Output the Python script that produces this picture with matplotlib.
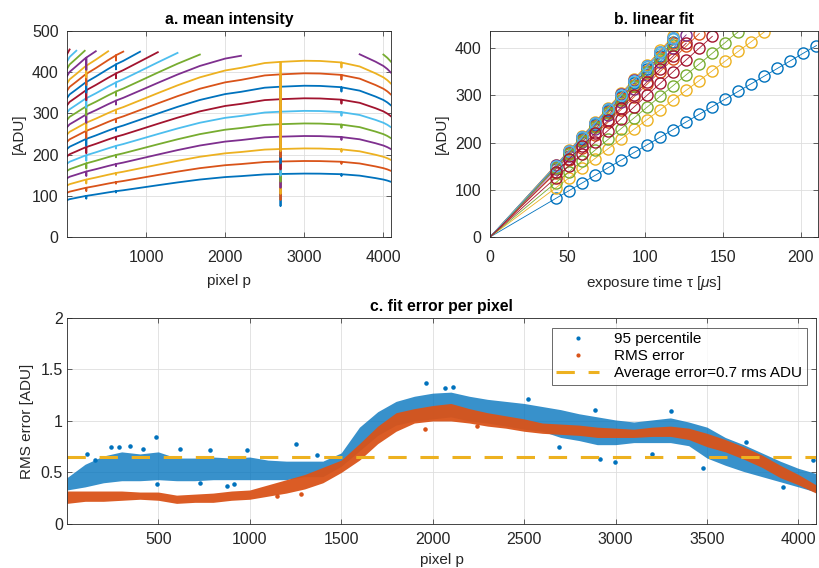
import matplotlib
matplotlib.use("Agg")
import matplotlib.pyplot as plt
import numpy as np

plt.rcParams['font.family'] = ['Liberation Sans', 'DejaVu Sans']
plt.rcParams['mathtext.fontset'] = 'custom'
plt.rcParams['mathtext.it'] = 'Liberation Sans:italic'
plt.rcParams['mathtext.rm'] = 'Liberation Sans'

# MATLAB default colour order
mcolors = ['#0072BD', '#D95319', '#EDB120', '#7E2F8E', '#77AC30', '#4DBEEE', '#A2142F']

################################################################
# exposure times [us] (shared by panels a and b)
tau = [42.4, 50.8, 59.2, 67.5, 75.9, 84.3, 92.7, 101.1, 109.4, 117.8, 126.2,
       134.6, 143.0, 151.3, 159.7, 168.1, 176.5, 184.9, 193.2, 201.6, 210.0]

# panel a: intensity profile of the shortest exposure and saturation level
pix_a = [1, 34, 119, 225, 244, 245, 246, 365, 521, 619, 620, 621, 712, 924, 1149,
         1398, 1680, 2000, 2200, 2500, 2699, 2700, 2701, 3000, 3200, 3469, 3470,
         3471, 3700, 3800, 3900, 4000, 4050, 4096]
base_a = [89.5, 91.9, 95.1, 99.2, 99.8, 93.0, 99.9, 103.4, 108.3, 111.2, 108.0, 111.3,
          113.5, 119.4, 125.7, 132.5, 139.5, 145.5, 147.8, 152.0, 153.0, 75.0, 153.0,
          154.0, 153.8, 152.5, 148.0, 152.4, 149.0, 146.0, 143.0, 139.5, 137.0, 134.0]
sat_a = [455.5, 455.5, 452.5, 452.5, 452.5, 452.5, 452.5, 451.5, 451.5, 451.0, 451.0,
         451.0, 450.5, 450.0, 449.0, 447.5, 443.5, 441.0, 440.5, 444.5, 444.5, 444.5,
         444.5, 444.5, 444.5, 444.5, 444.5, 444.5, 444.5, 444.5, 444.5, 444.5, 444.5,
         444.5]

# panel b: responsivity of the selected pixels [ADU/us] and unsaturated points
resp_b = [1.93, 3.20, 2.46, 3.39, 2.72, 3.55, 2.97, 3.51, 3.48, 3.61, 3.58, 3.45, 3.57, 3.25]
npts_b = [21, 12, 17, 11, 15, 10, 13, 10, 10, 10, 10, 10, 10, 11]

# panel c: band of the per pixel fit errors
pix_c = [1, 100, 200, 300, 400, 500, 600, 700, 800, 900, 1000, 1100, 1200, 1300,
         1400, 1500, 1600, 1700, 1800, 1900, 2000, 2100, 2200, 2300, 2400, 2500,
         2600, 2700, 2800, 2900, 3000, 3100, 3200, 3300, 3400, 3500, 3600, 3700,
         3800, 3900, 4000, 4096]
p95_lo = [0.33, 0.36, 0.40, 0.42, 0.42, 0.43, 0.42, 0.42, 0.43, 0.43, 0.43, 0.43,
          0.43, 0.46, 0.46, 0.56, 0.71, 0.86, 0.96, 1.00, 1.02, 1.04, 1.00, 0.98,
          0.95, 0.92, 0.90, 0.84, 0.81, 0.77, 0.77, 0.79, 0.79, 0.79, 0.76, 0.64,
          0.57, 0.51, 0.46, 0.41, 0.36, 0.31]
p95_hi = [0.45, 0.58, 0.66, 0.70, 0.68, 0.70, 0.64, 0.64, 0.65, 0.64, 0.65, 0.62,
          0.61, 0.61, 0.61, 0.69, 0.94, 1.09, 1.19, 1.24, 1.27, 1.28, 1.24, 1.21,
          1.19, 1.17, 1.14, 1.11, 1.07, 1.04, 1.01, 0.99, 1.01, 1.03, 0.99, 0.94,
          0.84, 0.77, 0.69, 0.61, 0.54, 0.49]
rms_lo = [0.20, 0.22, 0.22, 0.23, 0.24, 0.23, 0.20, 0.21, 0.21, 0.23, 0.24, 0.27,
          0.30, 0.34, 0.40, 0.50, 0.62, 0.78, 0.90, 0.98, 1.00, 1.00, 0.98, 0.95,
          0.93, 0.90, 0.88, 0.87, 0.86, 0.84, 0.84, 0.84, 0.85, 0.85, 0.82, 0.75,
          0.70, 0.63, 0.55, 0.45, 0.38, 0.30]
rms_hi = [0.32, 0.32, 0.32, 0.32, 0.31, 0.31, 0.28, 0.29, 0.30, 0.32, 0.33, 0.38,
          0.43, 0.48, 0.55, 0.62, 0.78, 0.95, 1.08, 1.12, 1.15, 1.17, 1.12, 1.08,
          1.05, 1.02, 0.98, 0.97, 0.96, 0.94, 0.93, 0.92, 0.94, 0.95, 0.93, 0.88,
          0.82, 0.75, 0.67, 0.57, 0.48, 0.38]
# isolated points read outside the dense bands
p95_out_pix = [110, 156, 244, 284, 344, 419, 485, 491, 619, 729, 784, 875, 912, 985,
               1251, 1370, 1965, 2066, 2112, 2524, 2689, 2890, 2917, 2999, 3201,
               3302, 3476, 3714, 3916, 4080]
p95_out_val = [0.68, 0.62, 0.75, 0.75, 0.76, 0.73, 0.84, 0.39, 0.73, 0.40, 0.72, 0.37,
               0.39, 0.72, 0.78, 0.67, 1.37, 1.32, 1.33, 1.21, 0.75, 1.11, 0.63, 0.60,
               0.68, 1.10, 0.54, 0.80, 0.36, 0.62]
rms_out_pix = [1147, 1278, 1960, 2240]
rms_out_val = [0.27, 0.29, 0.92, 0.95]
avg_err = 0.65

################################################################

gray = '#262626'
fs = 11


def style_axes(ax, xpad, ypad):
    ax.tick_params(direction='in', top=True, right=True, length=3.5, width=0.5,
                   colors=gray, labelsize=11.5)
    ax.tick_params(axis='x', pad=xpad)
    ax.tick_params(axis='y', pad=ypad)
    for s in ax.spines.values():
        s.set_color(gray)
        s.set_linewidth(0.6)
    ax.grid(True, color='#dedede', linewidth=0.6)
    ax.set_axisbelow(True)


fig = plt.figure(figsize=(8.19, 5.68), dpi=100)
ax_a = fig.add_axes([0.0818, 0.5827, 0.3956, 0.3627])
ax_b = fig.add_axes([0.5983, 0.5827, 0.4005, 0.3627])
ax_c = fig.add_axes([0.0818, 0.0775, 0.9145, 0.3627])

# a. mean intensity
pa = np.array(pix_a, dtype=float)
ba = np.array(base_a)
sa = np.array(sat_a)
for k, t in enumerate(tau):
    vals = ba * t / tau[0]
    vals = np.where(vals <= sa, vals, np.nan)
    ax_a.plot(pa, vals, color=mcolors[k % 7], lw=1.3)
ax_a.set_xlim(1, 4096)
ax_a.set_ylim(0, 500)
ax_a.set_xticks([1000, 2000, 3000, 4000])
ax_a.set_yticks([0, 100, 200, 300, 400, 500])
ax_a.set_xlabel('pixel p', color=gray, fontsize=fs, labelpad=6)
ax_a.set_ylabel('[ADU]', color=gray, fontsize=fs, labelpad=4)
ax_a.set_title('a. mean intensity', fontsize=11.3, fontweight='bold', pad=5)
style_axes(ax_a, 9.5, 6)

# b. linear fit
tb = np.array(tau)
for j, (r, n) in enumerate(zip(resp_b, npts_b)):
    c = mcolors[j % 7]
    ax_b.plot([0, tb[n - 1]], [0, r * tb[n - 1]], color=c, lw=0.6)
    ax_b.plot(tb[:n], r * tb[:n], 'o', color=c, mfc='none', ms=8, mew=1.0)
ax_b.set_xlim(0, 211)
ax_b.set_ylim(0, 436)
ax_b.set_xticks([0, 50, 100, 150, 200])
ax_b.set_yticks([0, 100, 200, 300, 400])
ax_b.set_xlabel(r'exposure time τ [$\mu$s]', color=gray, fontsize=fs, labelpad=6)
ax_b.set_ylabel('[ADU]', color=gray, fontsize=fs, labelpad=4)
ax_b.set_title('b. linear fit', fontsize=11.3, fontweight='bold', pad=5)
style_axes(ax_b, 9.5, 6)

# c. fit error per pixel
ax_c.fill_between(pix_c, p95_lo, p95_hi, color=mcolors[0], alpha=0.78, lw=0)
ax_c.plot(p95_out_pix, p95_out_val, '.', color=mcolors[0], ms=4.5)
ax_c.fill_between(pix_c, rms_lo, rms_hi, color=mcolors[1], alpha=0.95, lw=0)
ax_c.plot(rms_out_pix, rms_out_val, '.', color=mcolors[1], ms=4.5)
ax_c.axhline(avg_err, color=mcolors[2], lw=2.2, dashes=(6, 4.5))
ax_c.set_xlim(1, 4096)
ax_c.set_ylim(0, 2)
ax_c.set_xticks(np.arange(500, 4001, 500))
ax_c.set_yticks([0, 0.5, 1, 1.5, 2])
ax_c.set_yticklabels(['0', '0.5', '1', '1.5', '2'])
ax_c.set_xlabel('pixel p', color=gray, fontsize=fs, labelpad=4)
ax_c.set_ylabel('RMS error [ADU]', color=gray, fontsize=fs, labelpad=5)
ax_c.set_title('c. fit error per pixel', fontsize=11.3, fontweight='bold', pad=5)
style_axes(ax_c, 6, 3)

h1 = plt.Line2D([], [], ls='none', marker='.', color=mcolors[0], ms=4)
h2 = plt.Line2D([], [], ls='none', marker='.', color=mcolors[1], ms=4)
h3 = plt.Line2D([], [], color=mcolors[2], lw=2.2, dashes=(6, 4.5))
leg = ax_c.legend([h1, h2, h3], ['95 percentile', 'RMS error', 'Average error=0.7 rms ADU'],
                  loc='upper right', bbox_to_anchor=(0.988, 0.952), fontsize=fs,
                  frameon=True, fancybox=False, edgecolor=gray, handlelength=2.8,
                  handletextpad=1.0, borderpad=0.3, labelspacing=0.18, borderaxespad=0)
leg.get_frame().set_linewidth(0.6)

fig.savefig('out.png', dpi=100)
